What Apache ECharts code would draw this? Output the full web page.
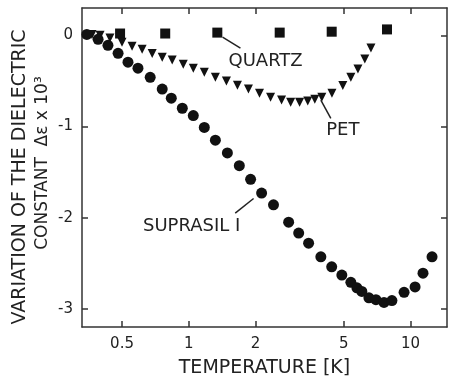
<!DOCTYPE html>
<style>
body {margin: 0; background: #fff;}
#div_echart {height: 379px; width: 450px;}
</style>
<script src='https://cdn.jsdelivr.net/npm/echarts@6/dist/echarts.min.js'></script>
<div id='div_echart'></div>
<script>
// temperatures in K, values are delta epsilon x 10^3
let suprasil_t = [0.347, 0.39, 0.432, 0.48, 0.532, 0.59, 0.67, 0.759, 0.834, 0.935, 1.048, 1.175, 1.318, 1.493, 1.69, 1.9, 2.13, 2.41, 2.82, 3.13, 3.47, 3.94, 4.41, 4.9, 5.38, 5.73, 6.03, 6.49, 6.98, 7.59, 8.24, 9.35, 10.48, 11.38, 12.5]
let suprasil_v = [0.01, -0.044, -0.11, -0.197, -0.295, -0.36, -0.46, -0.59, -0.69, -0.8, -0.88, -1.01, -1.15, -1.29, -1.43, -1.58, -1.73, -1.86, -2.05, -2.17, -2.28, -2.43, -2.54, -2.63, -2.71, -2.77, -2.81, -2.88, -2.9, -2.93, -2.91, -2.82, -2.76, -2.61, -2.43]
let pet_t = [0.366, 0.398, 0.441, 0.5, 0.555, 0.616, 0.684, 0.759, 0.842, 0.944, 1.048, 1.175, 1.318, 1.478, 1.657, 1.858, 2.084, 2.337, 2.62, 2.88, 3.16, 3.44, 3.7, 3.98, 4.42, 4.95, 5.38, 5.79, 6.22, 6.63]
let pet_v = [0.01, 0.0, -0.03, -0.077, -0.12, -0.153, -0.2, -0.24, -0.27, -0.317, -0.36, -0.405, -0.46, -0.5, -0.547, -0.59, -0.635, -0.68, -0.71, -0.733, -0.733, -0.72, -0.7, -0.68, -0.635, -0.55, -0.46, -0.37, -0.26, -0.14]
let quartz_t = [0.49, 0.783, 1.345, 2.57, 4.41, 7.83]
let quartz_v = [0.02, 0.02, 0.03, 0.03, 0.04, 0.065]

let x_ticks = [0.5, 1, 2, 5, 10]
let x_tick_labels = ['0.5', '1', '2', '5', '10']
let y_ticks = [0, -1, -2, -3]

// annotation anchors, in data units
let quartz_leader = [[1.42, -0.02], [1.71, -0.14]]
let quartz_label = [2.22, -0.285]
let pet_leader = [[3.94, -0.71], [4.37, -0.91]]
let pet_label = [4.95, -1.04]
let suprasil_leader = [[1.62, -1.95], [1.96, -1.79]]
let suprasil_label = [1.03, -2.1]

let font = 'DejaVu Sans'
let ink = '#111'
let text_ink = '#222'
let axis_ink = '#333'

function pairs(xs, ys) {
	return xs.map((x, i) => [x, ys[i]])
}
function annotate(leader, label, text) {
	return {
		markLine: {
			silent: true, symbol: 'none', animation: false,
			lineStyle: {color: text_ink, width: 1.5, type: 'solid', opacity: 1},
			label: {show: false},
			data: [[{coord: leader[0]}, {coord: leader[1]}]]
		},
		markPoint: {
			silent: true, symbol: 'circle', symbolSize: 0, animation: false,
			label: {show: true, position: 'inside', formatter: text, fontFamily: font, fontSize: 18, color: text_ink},
			data: [{coord: label}]
		}
	}
}

let x_axis_base = {
	type: 'log', min: 0.33, max: 14.6,
	axisLine: {onZero: false, lineStyle: {color: axis_ink, width: 1.5}},
	axisTick: {inside: true, length: 6, customValues: x_ticks, lineStyle: {color: axis_ink, width: 1.5}},
	minorTick: {show: false},
	splitLine: {show: false}
}
let y_axis_base = {
	type: 'value', min: -3.2, max: 0.3,
	axisLine: {show: true, onZero: false, lineStyle: {color: axis_ink, width: 1.5}},
	axisTick: {show: true, inside: true, length: 6, customValues: y_ticks, lineStyle: {color: axis_ink, width: 1.5}},
	splitLine: {show: false}
}

let echart = echarts.init(document.getElementById('div_echart'))
echart.setOption({
	animation: false,
	grid: {left: 82, right: 3, top: 8, bottom: 52, outerBoundsMode: 'none', containLabel: false},
	xAxis: [
		Object.assign({}, x_axis_base, {
			position: 'bottom',
			axisLabel: {customValues: x_ticks, formatter: v => x_tick_labels[x_ticks.indexOf(v)] ?? '', fontFamily: font, fontSize: 15, color: text_ink, margin: 2},
			name: 'TEMPERATURE [K]', nameLocation: 'middle', nameGap: 22, nameMoveOverlap: false,
			nameTextStyle: {fontFamily: font, fontSize: 19, color: text_ink}
		}),
		Object.assign({}, x_axis_base, {position: 'top', axisLabel: {show: false}})
	],
	yAxis: [
		Object.assign({}, y_axis_base, {
			position: 'left',
			axisLabel: {customValues: y_ticks, fontFamily: font, fontSize: 15, color: text_ink, margin: 9}
		}),
		Object.assign({}, y_axis_base, {position: 'right', axisLabel: {show: false}})
	],
	graphic: [
		{type: 'text', x: 20, y: 177, rotation: Math.PI / 2,
			style: {text: 'VARIATION OF THE DIELECTRIC', font: '19px ' + font, fill: text_ink, align: 'center', verticalAlign: 'middle'}},
		{type: 'text', x: 43, y: 163, rotation: Math.PI / 2,
			style: {text: 'CONSTANT  \u0394\u03b5 x 10\u00b3', font: '17px ' + font, fill: text_ink, align: 'center', verticalAlign: 'middle'}}
	],
	series: [
		Object.assign({
			name: 'Quartz', type: 'scatter', symbol: 'rect', symbolSize: 10,
			itemStyle: {color: ink, opacity: 1}, data: pairs(quartz_t, quartz_v)
		}, annotate(quartz_leader, quartz_label, 'QUARTZ')),
		Object.assign({
			name: 'PET', type: 'scatter', symbol: 'triangle', symbolRotate: 180, symbolSize: 9,
			itemStyle: {color: ink, opacity: 1}, data: pairs(pet_t, pet_v)
		}, annotate(pet_leader, pet_label, 'PET')),
		Object.assign({
			name: 'Suprasil I', type: 'scatter', symbol: 'circle', symbolSize: 11,
			itemStyle: {color: ink, opacity: 1}, data: pairs(suprasil_t, suprasil_v)
		}, annotate(suprasil_leader, suprasil_label, 'SUPRASIL I'))
	]
})
</script>
